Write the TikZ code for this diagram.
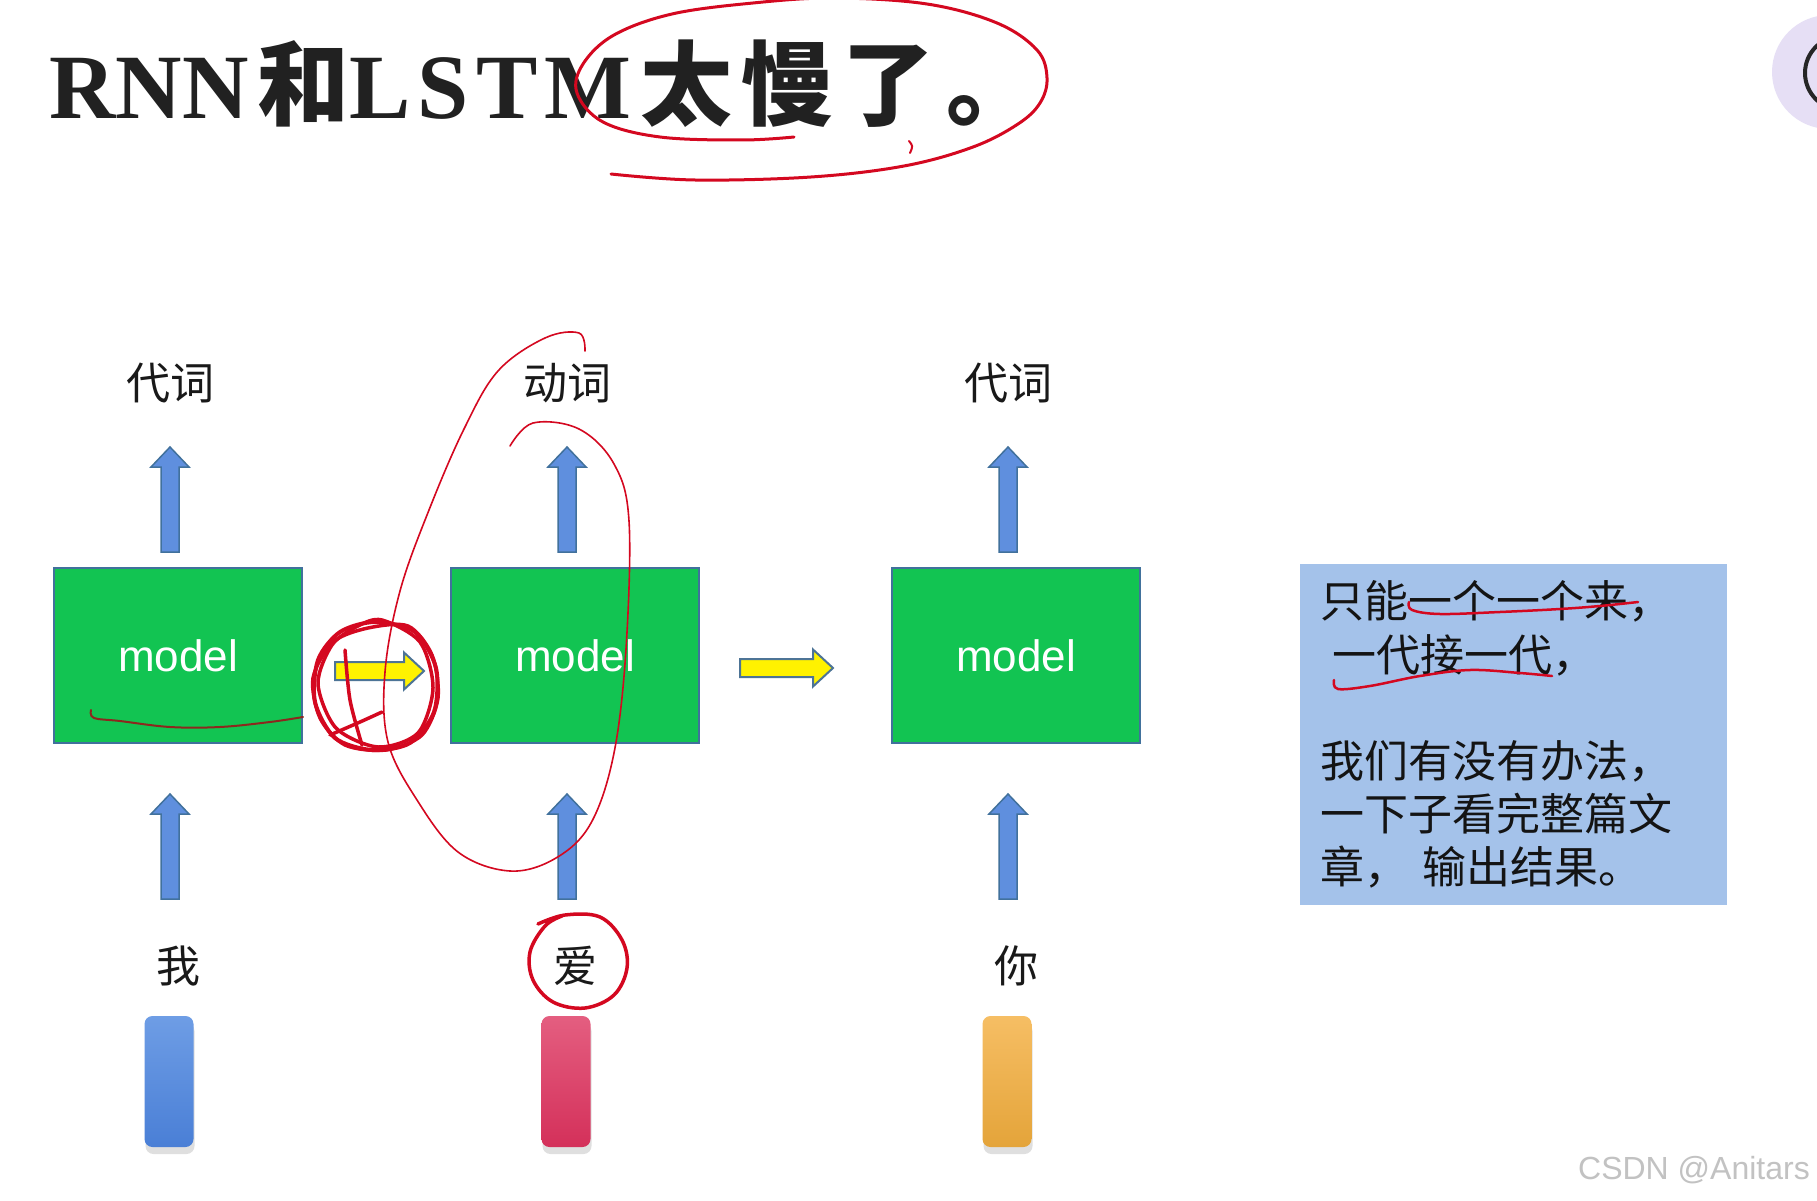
\documentclass[tikz,border=0pt]{standalone}
\usepackage{fontspec}
\setmainfont{Liberation Serif}
\newfontfamily\cjk{Noto Sans CJK SC}
\newfontfamily\arialfont{Liberation Sans}
\usepackage{tikz}
\usetikzlibrary{calc}
\usetikzlibrary{shadows}

\definecolor{boxgreen}{RGB}{18,196,82}
\definecolor{edgeblue}{RGB}{65,113,156}
\definecolor{arrowblue}{RGB}{95,143,222}
\definecolor{notebg}{RGB}{164,194,234}
\definecolor{inkred}{RGB}{212,8,32}
\definecolor{inkdark}{RGB}{140,40,30}
\definecolor{avatarbg}{RGB}{230,223,245}
\definecolor{topblue}{RGB}{110,157,229}
\definecolor{botblue}{RGB}{74,127,214}
\definecolor{topred}{RGB}{228,94,128}
\definecolor{botred}{RGB}{212,48,90}
\definecolor{toporange}{RGB}{246,190,100}
\definecolor{botorange}{RGB}{228,164,58}

\tikzstyle{modelbox}=[draw=edgeblue, line width=2pt, fill=boxgreen, minimum width=248pt, minimum height=175pt, inner sep=0pt, text=white, font=\arialfont\fontsize{44}{44}\selectfont]
\tikzstyle{word}=[inner sep=0pt, text=black!90, font=\cjk\fontsize{44}{44}\selectfont]
\tikzstyle{bar}=[minimum width=49pt, minimum height=131pt, rounded corners=8pt, inner sep=0pt, drop shadow={shadow xshift=1pt, shadow yshift=-7pt, opacity=0.25}]
\tikzstyle{blockarrow}=[draw=edgeblue, line width=1.5pt, fill=arrowblue]
\tikzstyle{yellowarrow}=[draw=edgeblue!80!gray, line width=2pt, fill=yellow]
\tikzstyle{ink}=[draw=inkred, line cap=round, line join=round]

% block arrow pointing up, #1 = middle of its foot
\newcommand{\upblock}[1]{\draw[blockarrow] #1 ++(-9,0) -- ++(0,-85) -- ++(-10,0) -- ++(19,-20) -- ++(19,20) -- ++(-10,0) -- ++(0,85) -- cycle;}
% block arrow pointing right, #1 = middle of its tail, #2 = length
\newcommand{\rightblock}[2]{\draw[yellowarrow] #1 ++(0,-9) -- ++(#2-20,0) -- ++(0,-9.5) -- ++(20,18.5) -- ++(-20,18.5) -- ++(0,-9.5) -- ++(20-#2,0) -- cycle;}

\begin{document}
\begin{tikzpicture}[x=1pt,y=-1pt]
    \useasboundingbox (0,0) rectangle (1817,1201);
    \fill[white] (0,0) rectangle (1817,1201);

    %avatar
    \fill[avatarbg] (1829,72) circle (57);
    \draw[line width=4pt, black!85] (1842,73) circle (37);

    %title
    \node[anchor=base west, inner sep=0pt, text=black!87, font=\fontsize{92}{92}\selectfont\bfseries] (title) at (49,119) {RNN\kern9pt{\cjk 和}L\kern7pt S\kern7pt T\kern7pt M\kern9pt{\cjk 太\kern9pt 慢\kern9pt 了\kern12pt 。}};

    %columns
    \foreach \i/\x/\o/\w/\c in {1/178/代词/我/blue, 2/575/动词/爱/red, 3/1016/代词/你/orange}{
        \node[modelbox] (m\i) at (\x,655.5) {model};
        \node[word] (o\i) at (\x-8,383) {\o};
        \node[word] (w\i) at (\x,966) {\w};
        \node[bar, top color=top\c, bottom color=bot\c] (v\i) at (\x-9,1081.5) {};
        \upblock{($(m\i.north)+(-8,-15)$)}
        \upblock{($(m\i.south)+(-8,155)$)}
    }

    %hidden state
    \rightblock{($(m1.east)+(32,15.5)$)}{89}
    \rightblock{($(m2.east)+(40,12.5)$)}{93}

    %note
    \node[anchor=north west, fill=notebg, text width=387pt, inner xsep=20pt, inner ysep=0pt, minimum height=341pt, align=left, text=black!92, font=\cjk\fontsize{44}{53.2}\selectfont] (note) at (1300,564) {只能一个一个来，\\ \hspace*{12pt}一代接一代，\\[53.2pt] 我们有没有办法，\\ 一下子看完整篇文\\ 章， 输出结果。};

    \node[anchor=base east, inner sep=0pt, text=black!24, font=\arialfont\fontsize{32}{32}\selectfont] (wm) at (1810,1179) {CSDN @Anitars};

    %ink
    \draw[ink, line width=3pt] plot[smooth, tension=0.6] coordinates {(794,137) (742,140) (660,137) (603,122) (577,93) (583,64) (614,35) (672,14) (753,3) (834,-2) (927,4) (997,23) (1037,50) (1047,78) (1040,103) (1018,124) (973,147) (904,166) (811,177) (695,180) (611,174)};
    \draw[ink, line width=2pt] (909,141) .. controls (913,146) .. (910,153);

    \draw[draw=inkdark, line width=2pt, line cap=round] plot[smooth, tension=0.6] coordinates {(91,710) (94,718) (120,721) (170,727) (220,727) (270,722) (303,717)};

    \draw[ink, line width=4pt] plot[smooth cycle] coordinates {(375,622) (415,632) (436,668) (434,712) (410,743) (372,750) (335,738) (315,702) (318,660) (340,632)};
    \draw[ink, line width=3.5pt] plot[smooth cycle] coordinates {(368,628) (408,626) (432,655) (438,698) (422,735) (386,750) (345,745) (320,718) (313,678) (333,642)};
    \draw[ink, line width=3.5pt] plot[smooth cycle] coordinates {(382,620) (420,642) (433,688) (418,733) (378,747) (336,728) (318,684) (332,645) (358,626)};
    \draw[ink, line width=3.5pt] plot[smooth] coordinates {(345,650) (350,700) (362,745)};
    \draw[ink, line width=3.5pt] plot[smooth] coordinates {(330,735) (360,722) (382,712)};

    \draw[ink, line width=1.6pt] plot[smooth, tension=0.6] coordinates {(585,351) (579,333) (545,338) (498,371) (464,429) (429,510) (400,591) (385,672) (388,742) (417,800) (458,852) (510,871) (556,858) (591,823) (614,753) (626,649) (629,521) (614,464) (579,429) (533,423) (510,446)};

    \draw[ink, line width=3.5pt] plot[smooth, tension=0.6] coordinates {(538,924) (565,915) (600,917) (622,940) (627,968) (614,995) (585,1008) (553,1002) (533,980) (530,952) (545,926) (562,916)};

    \draw[ink, line width=2.5pt] plot[smooth, tension=0.6] coordinates {(1409,602) (1412,610) (1440,614) (1500,612) (1560,609) (1600,606) (1638,602)};
    \draw[ink, line width=2.5pt] plot[smooth, tension=0.6] coordinates {(1334,680) (1338,689) (1370,686) (1420,676) (1470,670) (1520,673) (1552,676)};
\end{tikzpicture}
\end{document}
